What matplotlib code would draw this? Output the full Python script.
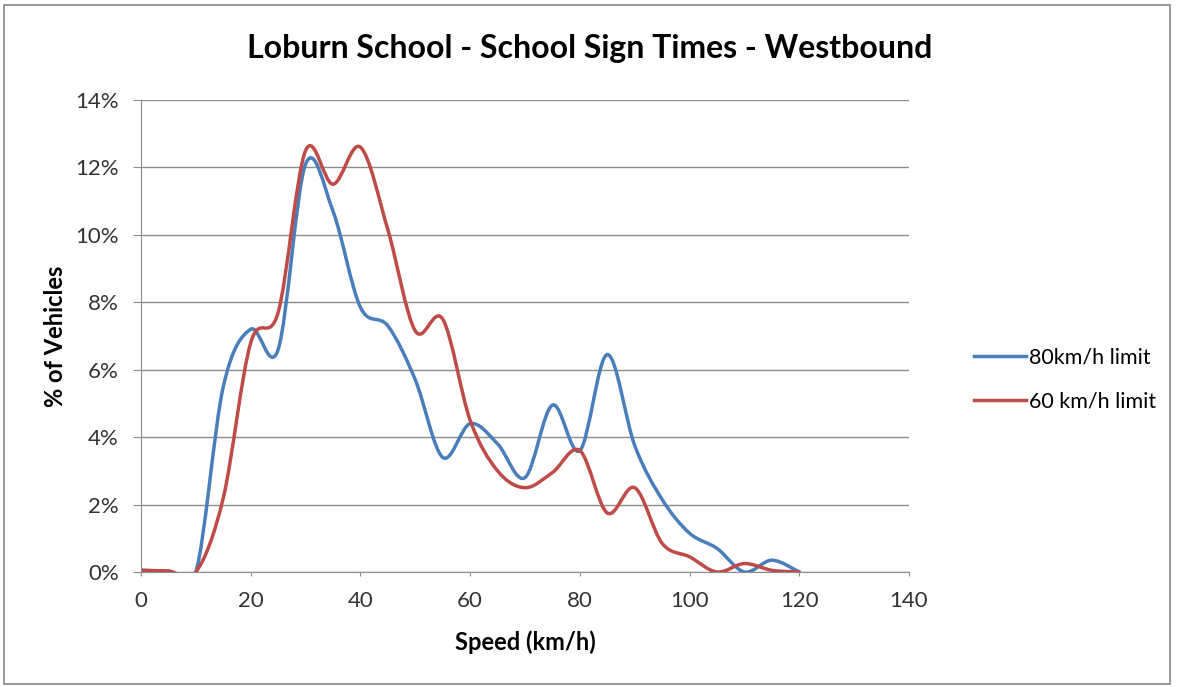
import matplotlib.pyplot as plt
from matplotlib.path import Path
from matplotlib.patches import PathPatch, Rectangle
from matplotlib.lines import Line2D
from matplotlib.ticker import FuncFormatter

plt.rcParams['font.family'] = ['Lato', 'DejaVu Sans']

speed = [0, 5, 10, 15, 20, 25, 30, 35, 40, 45, 50, 55, 60,
         65, 70, 75, 80, 85, 90, 95, 100, 105, 110, 115, 120]
pct_80 = [0.05, 0.02, 0.0, 5.5, 7.2, 6.6, 12.1, 10.7, 7.85, 7.3, 5.7, 3.4, 4.4,
          3.8, 2.8, 4.95, 3.6, 6.45, 3.75, 2.15, 1.15, 0.7, 0.0, 0.35, 0.0]
pct_60 = [0.05, 0.03, 0.0, 2.2, 6.8, 7.7, 12.5, 11.5, 12.6, 10.15, 7.15, 7.5, 4.5,
          3.0, 2.5, 2.95, 3.6, 1.75, 2.5, 0.85, 0.45, 0.0, 0.25, 0.05, 0.0]
series = [('80km/h limit', pct_80, '#4a7ebb'), ('60 km/h limit', pct_60, '#be4b48')]


def smooth_path(x, y):
    # Excel style smoothed line: Bezier segments with Catmull-Rom control points
    verts = [(x[0], y[0])]
    codes = [Path.MOVETO]
    n = len(x)
    for i in range(n - 1):
        x0, y0 = (x[i - 1], y[i - 1]) if i > 0 else (x[i], y[i])
        x3, y3 = (x[i + 2], y[i + 2]) if i + 2 < n else (x[i + 1], y[i + 1])
        c1 = (x[i] + (x[i + 1] - x0) / 6, y[i] + (y[i + 1] - y0) / 6)
        c2 = (x[i + 1] - (x3 - x[i]) / 6, y[i + 1] - (y3 - y[i]) / 6)
        verts += [c1, c2, (x[i + 1], y[i + 1])]
        codes += [Path.CURVE4] * 3
    return Path(verts, codes)


fig = plt.figure(figsize=(11.79, 6.87), dpi=100)
ax = fig.add_axes([0.1196, 0.1674, 0.6514, 0.6871])

handles = []
for label, vals, color in series:
    ax.add_patch(PathPatch(smooth_path(speed, vals), facecolor='none',
                           edgecolor=color, lw=2.5, capstyle='round', joinstyle='round'))
    handles.append(Line2D([], [], color=color, lw=2.5, label=label))

ax.set_xlim(0, 140)
ax.set_ylim(0, 14)
ax.set_xticks(range(0, 141, 20))
ax.set_yticks(range(0, 15, 2))
ax.yaxis.set_major_formatter(FuncFormatter(lambda v, p: f'{v:.0f}%'))
ax.grid(axis='y', color='#8c8c8c', lw=1)
ax.set_axisbelow(True)
for s in ['top', 'right']:
    ax.spines[s].set_visible(False)
for s in ['left', 'bottom']:
    ax.spines[s].set_color('#8c8c8c')
ax.tick_params(axis='x', colors='#8c8c8c', labelcolor='#333333', labelsize=16,
               length=3, direction='out', pad=11)
ax.tick_params(axis='y', colors='#8c8c8c', labelcolor='#333333', labelsize=16,
               length=6, direction='out', pad=10)

fig.suptitle('Loburn School - School Sign Times - Westbound', fontsize=23,
             fontweight='bold', x=0.5, y=0.9287, va='center')
ax.set_xlabel('Speed (km/h)', fontsize=17, fontweight='bold', labelpad=14)
ax.set_ylabel('% of Vehicles', fontsize=17, fontweight='bold', labelpad=6)

fig.legend(handles=handles, loc='center left', bbox_to_anchor=(0.810, 0.4476),
           frameon=False, fontsize=15.5, handlelength=2.4, labelspacing=1.15,
           handletextpad=0.15)

fig.patches.append(Rectangle((0.0034, 0.0044), 0.989, 0.988, transform=fig.transFigure,
                             fill=False, edgecolor='#888888', lw=1.2))

fig.savefig('out.png', dpi=100)
